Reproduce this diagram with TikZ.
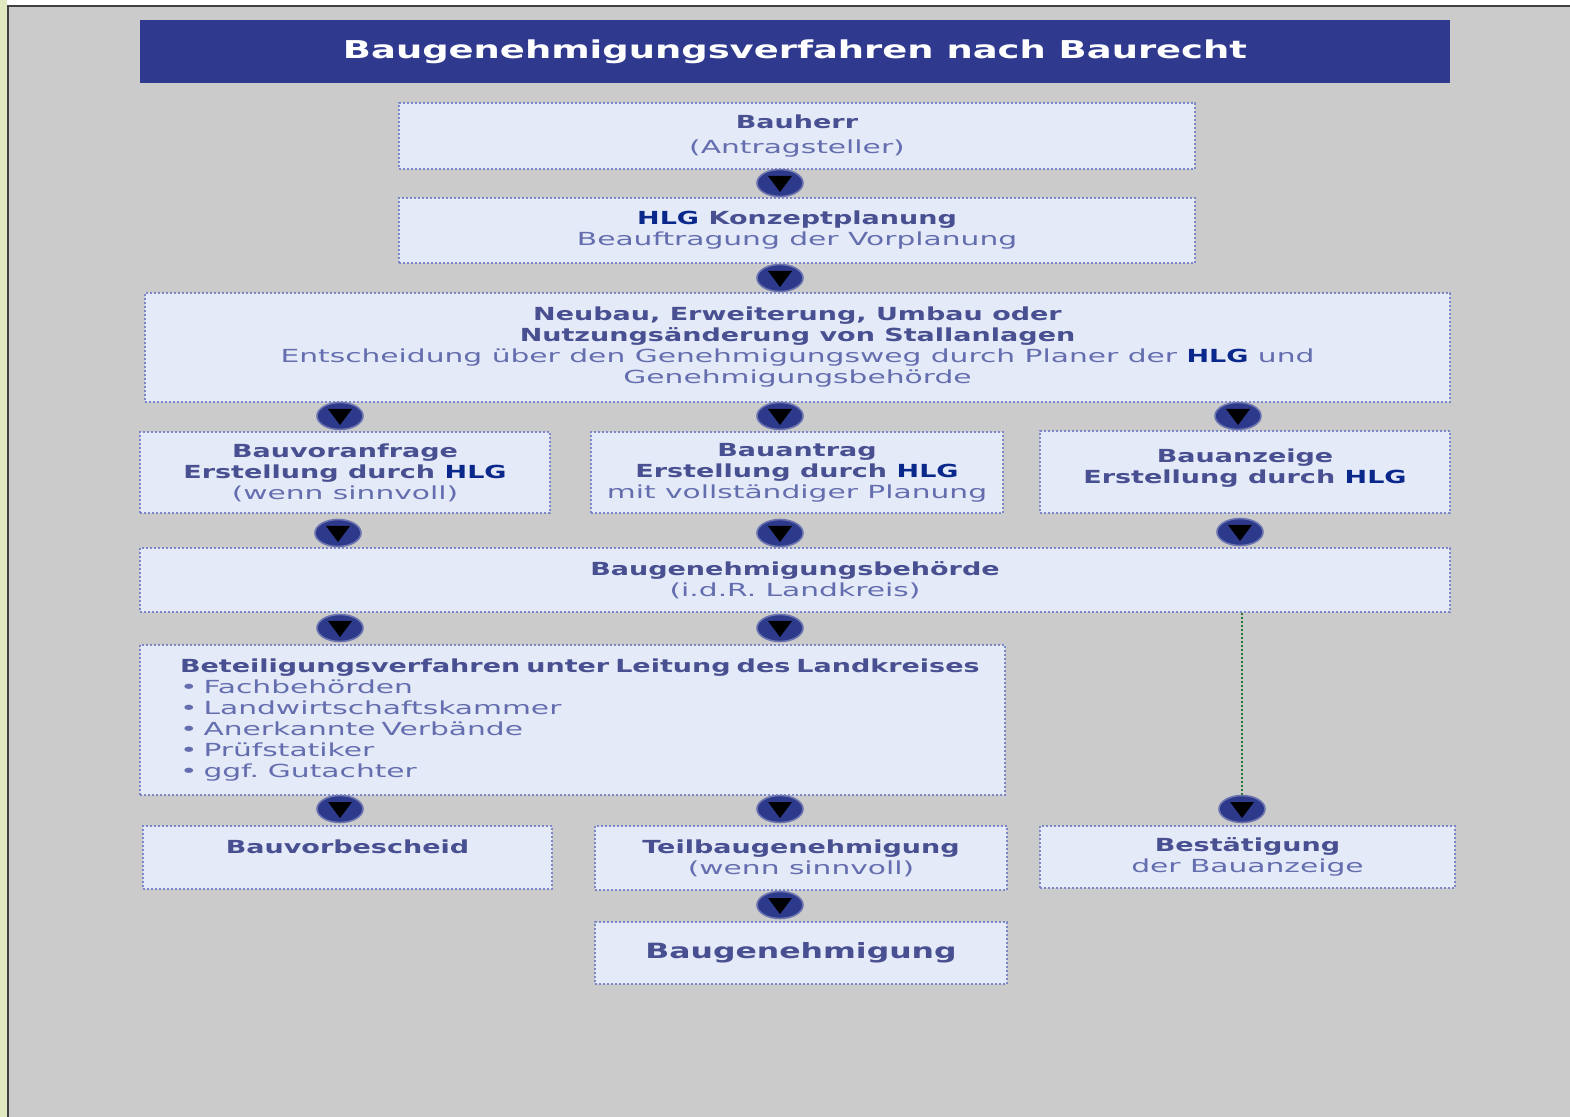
\documentclass[tikz,border=0pt]{standalone}
\usepackage{fontspec}
\setmainfont[FakeStretch=1.65, BoldFeatures={FakeStretch=1.5}]{DejaVu Sans}
\usepackage{tikz}
\usetikzlibrary{calc,shapes.geometric}
\definecolor{bgrey}{RGB}{203,203,203}
\definecolor{titleblue}{RGB}{47,58,142}
\definecolor{boxfill}{RGB}{228,234,247}
\definecolor{boxline}{RGB}{125,135,200}
\definecolor{headtext}{RGB}{72,80,145}
\definecolor{plaintext}{RGB}{100,110,175}
\definecolor{hlgblue}{RGB}{10,40,140}
\definecolor{badgeblue}{RGB}{45,58,140}
\definecolor{stripgreen}{RGB}{224,234,192}
\definecolor{linkgreen}{RGB}{40,120,60}
\newcommand{\hlg}{{\bfseries\color{hlgblue}HLG}}
\newcommand{\hd}[1]{{\bfseries\color{headtext}#1}}

\begin{document}
\begin{tikzpicture}[x=0.5pt, y=-0.5pt,
  box/.style={draw=boxline, densely dotted, line width=1pt, fill=boxfill, align=center,
    inner sep=0pt, font=\fontsize{9}{10.5}\selectfont, text=plaintext},
  badge/.style={ellipse, fill=badgeblue, draw=badgeblue!70, line width=0.8pt,
    minimum width=23pt, minimum height=13.5pt, inner sep=0pt,
    path picture={\fill[black] ($(path picture bounding box.center)+(-6pt,3.5pt)$) -- ++(12pt,0)
      -- ($(path picture bounding box.center)+(0,-4.5pt)$) -- cycle;}}]

% frame
\useasboundingbox (0,0) rectangle (1570,1117);
\fill[bgrey] (0,0) rectangle (1570,1117);
\fill[stripgreen] (0,0) rectangle (7,1117);
\fill[white] (7,0) rectangle (1570,6);
\draw[darkgray, line width=1pt] (8,1117) -- (8,6) -- (1570,6);

\node[fill=titleblue, minimum width=655pt, minimum height=31.5pt, inner sep=0pt, text=white,
  font=\fontsize{12.3}{14}\selectfont\bfseries] (title) at (795,51.5) {Baugenehmigungsverfahren nach Baurecht};

\node[box, minimum width=398pt, minimum height=33pt, font=\fontsize{9}{12.5}\selectfont] (b1) at (797,136) {\hd{Bauherr}\\(Antragsteller)};
\node[box, minimum width=398pt, minimum height=32.5pt] (b2) at (797,230.5) {\hlg{} \hd{Konzeptplanung}\\Beauftragung der Vorplanung};
\node[box, minimum width=652.5pt, minimum height=54.5pt] (b3) at (797.5,347.5)
  {\hd{Neubau, Erweiterung, Umbau oder}\\\hd{Nutzungsänderung von Stallanlagen}\\Entscheidung über den Genehmigungsweg durch Planer der \hlg{} und\\Genehmigungsbehörde};

\node[box, minimum width=205pt, minimum height=40.5pt] (b4a) at (345,472.5) {\hd{Bauvoranfrage}\\\hd{Erstellung durch} \hlg\\(wenn sinnvoll)};
\node[box, minimum width=206pt, minimum height=40.5pt] (b4b) at (797,472.5) {\hd{Bauantrag}\\\hd{Erstellung durch} \hlg\\mit vollständiger Planung};
\node[box, minimum width=205pt, minimum height=41pt] (b4c) at (1245,472) {\hd{Bauanzeige}\\\hd{Erstellung durch} \hlg\\[-4.5pt]};

\node[box, minimum width=655pt, minimum height=32pt] (b5) at (795,580) {\hd{Baugenehmigungsbehörde}\\(i.d.R. Landkreis)};

\node[box, minimum width=432.5pt, minimum height=75pt, align=left, text width=392.5pt] (b6) at (572.5,720)
  {\mbox{\hd{Beteiligungsverfahren unter Leitung des Landkreises}}\\
   • Fachbehörden\\• Landwirtschaftskammer\\• Anerkannte Verbände\\• Prüfstatiker\\• ggf. Gutachter};

\node[box, minimum width=204.5pt, minimum height=31.5pt] (b7a) at (347.5,857.5) {\hd{Bauvorbescheid}\\\mbox{}};
\node[box, minimum width=206pt, minimum height=32pt] (b7b) at (801,858) {\hd{Teilbaugenehmigung}\\(wenn sinnvoll)};
\node[box, minimum width=207.5pt, minimum height=31pt] (b7c) at (1247.5,857) {\hd{Bestätigung}\\der Bauanzeige};

\node[box, minimum width=206pt, minimum height=31pt, font=\fontsize{10.5}{12}\selectfont] (b8) at (801,953) {\hd{Baugenehmigung}};

% badges between the boxes
\node[badge] (p1) at (780,183) {};
\node[badge] (p2) at (780,278) {};
\node[badge] (p3) at (340,416) {};
\node[badge] (p4) at (780,416) {};
\node[badge] (p5) at (1238,416) {};
\node[badge] (p6) at (338,533) {};
\node[badge] (p7) at (780,533) {};
\node[badge] (p8) at (1240,532) {};
\node[badge] (p9) at (340,628) {};
\node[badge] (p10) at (780,628) {};
\node[badge] (p11) at (340,809) {};
\node[badge] (p12) at (780,809) {};
\node[badge] (p13) at (1242,809) {};
\node[badge] (p14) at (780,905) {};

\draw[linkgreen, densely dotted, line width=1pt] (b5.south -| p13.north) -- (p13.north);
\end{tikzpicture}
\end{document}
